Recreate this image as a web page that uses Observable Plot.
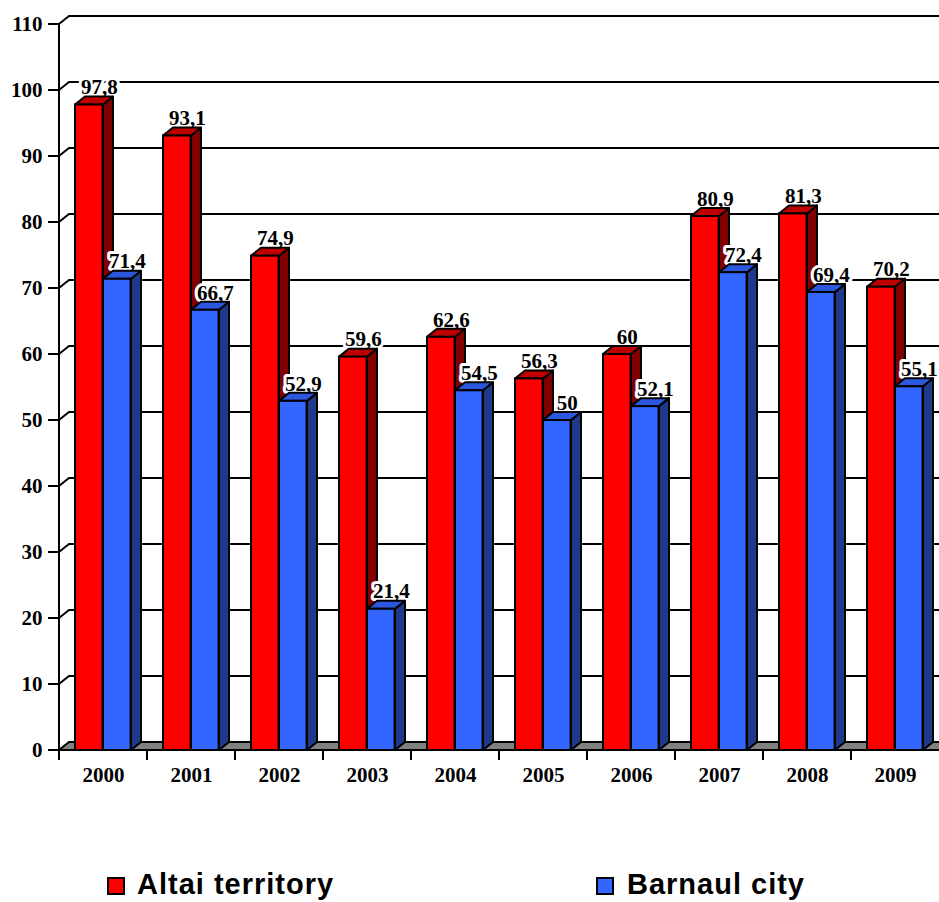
<!DOCTYPE html>
<html><head><meta charset="utf-8">
<script src="https://cdn.jsdelivr.net/npm/d3@7"></script>
<script src="https://cdn.jsdelivr.net/npm/@observablehq/plot@0.6"></script>
<style>
html,body{margin:0;padding:0;background:#fff;overflow:hidden}
#wrap{position:relative;width:939px;height:902px;overflow:hidden}
#chart svg{display:block;overflow:hidden}
.lg{position:absolute;font-family:"Liberation Sans",Arial,sans-serif;font-weight:bold;font-size:29px;letter-spacing:1px;line-height:1;color:#000;white-space:nowrap}
.sw{position:absolute;width:18px;height:18px;box-sizing:border-box;border:2px solid #000}
</style>
</head><body>
<div id="wrap"><div id="chart"></div></div>
<script>
// ---- data ----
const years = ["2000","2001","2002","2003","2004","2005","2006","2007","2008","2009"];
const altai = [97.8, 93.1, 74.9, 59.6, 62.6, 56.3, 60, 80.9, 81.3, 70.2];
const barnaul = [71.4, 66.7, 52.9, 21.4, 54.5, 50, 52.1, 72.4, 69.4, 55.1];
const yTicks = [0,10,20,30,40,50,60,70,80,90,100,110];
const seriesNames = ["Altai territory","Barnaul city"];

// ---- styles / geometry ----
const W = 939, H = 810;
const DX = 10, DY = 8;          // 3D depth offset
const BAR_OFF = [16, 44], BAR_W = 28;
const COLORS = [
  {front:"#FF0000", top:"#C00000", side:"#800000"},
  {front:"#3366FF", top:"#2C58E0", side:"#1F3A88"}
];
const fmt = v => String(v).replace(".", ",");

const rows = [altai, barnaul].map((vals, s) => years.map((year, i) => ({year, value: vals[i], series: seriesNames[s]})));

function backdrop(index, scales, values, dim) {
  const {x, y} = scales;
  const g = d3.create("svg:g");
  const x0 = x(years[0]);
  const right = dim.width;
  g.append("path")
    .attr("d", `M${x0},${y(0)}L${right + DX},${y(0)}L${right + DX},${y(0) - DY}L${x0 + DX},${y(0) - DY}Z`)
    .attr("fill", "#808080").attr("stroke", "#000").attr("stroke-width", 2);
  for (const t of yTicks.filter(t => t > 0)) {
    g.append("path")
      .attr("d", `M${x0},${y(t)}L${x0 + DX},${y(t) - DY}L${right},${y(t) - DY}`)
      .attr("fill", "none").attr("stroke", "#000").attr("stroke-width", 2);
  }
  return g.node();
}

function axes(index, scales, values, dim) {
  const {x, y} = scales;
  const g = d3.create("svg:g").attr("stroke", "#000").attr("stroke-width", 2);
  const x0 = x(years[0]);
  g.append("line").attr("x1", x0).attr("x2", x0).attr("y1", y(110)).attr("y2", y(0) + 10);
  for (const t of yTicks) g.append("line").attr("x1", x0 - 11).attr("x2", x0).attr("y1", y(t)).attr("y2", y(t));
  g.append("line").attr("x1", x0).attr("x2", dim.width).attr("y1", y(0)).attr("y2", y(0));
  for (const yr of years.slice(1)) g.append("line").attr("x1", x(yr)).attr("x2", x(yr)).attr("y1", y(0)).attr("y2", y(0) + 10);
  return g.node();
}

function faces(s) {
  return (index, scales) => {
    const {x, y} = scales;
    const g = d3.create("svg:g").attr("stroke", "#000").attr("stroke-width", 2).attr("stroke-linejoin", "round");
    for (const d of rows[s]) {
      const a = x(d.year) + BAR_OFF[s], b = a + BAR_W;
      const yt = y(d.value), yb = y(0);
      g.append("path").attr("fill", COLORS[s].side)
        .attr("d", `M${b},${yb}L${b},${yt}L${b + DX},${yt - DY}L${b + DX},${yb - DY}Z`);
      g.append("path").attr("fill", COLORS[s].top)
        .attr("d", `M${a},${yt}L${b},${yt}L${b + DX},${yt - DY}L${a + DX},${yt - DY}Z`);
    }
    return g.node();
  };
}

const bandW = (941 - 57) / years.length;
const marks = [backdrop];
for (const s of [0, 1]) {
  marks.push(Plot.text(rows[s], {
    x: "year", y: "value", text: d => fmt(d.value),
    dx: BAR_OFF[s] + BAR_W / 2 + DX - bandW / 2, dy: -DY - 9.5,
    fontSize: 21, fontWeight: "bold", fill: "#000", stroke: "#fff", strokeWidth: 6
  }));
  marks.push(faces(s));
  marks.push(Plot.barY(rows[s], {
    x: "year", y: "value", fill: COLORS[s].front, stroke: "#000", strokeWidth: 2,
    insetLeft: BAR_OFF[s], insetRight: bandW - BAR_OFF[s] - BAR_W
  }));
}
marks.push(axes);
marks.push(Plot.text(yTicks, {y: d => d, text: d => String(d), frameAnchor: "left", textAnchor: "end", dx: -15, fontSize: 21, fontWeight: "bold", fill: "#000"}));
marks.push(Plot.text(years, {x: d => d, text: d => d, frameAnchor: "bottom", dy: 31, fontSize: 21, fontWeight: "bold", fill: "#000"}));

const chart = Plot.plot({
  width: W, height: H,
  marginLeft: 57, marginRight: 0, marginTop: 24, marginBottom: 60,
  style: {fontFamily: "'Liberation Serif','Times New Roman',serif", background: "#fff", overflow: "hidden"},
  x: {type: "band", domain: years, range: [57, 941], paddingInner: 0, paddingOuter: 0, axis: null},
  y: {domain: [0, 110], range: [750, 24], axis: null},
  marks
});
document.getElementById("chart").appendChild(chart);

// legend
const wrap = document.getElementById("wrap");
const legendPos = [{sx: 107, tx: 137}, {sx: 596, tx: 627}];
seriesNames.forEach((name, s) => {
  const sw = document.createElement("div");
  sw.className = "sw"; sw.style.left = legendPos[s].sx + "px"; sw.style.top = "877px"; sw.style.background = COLORS[s].front;
  wrap.appendChild(sw);
  const t = document.createElement("div");
  t.className = "lg"; t.textContent = name; t.style.left = legendPos[s].tx + "px"; t.style.top = "870px";
  wrap.appendChild(t);
});
</script>
</body></html>
